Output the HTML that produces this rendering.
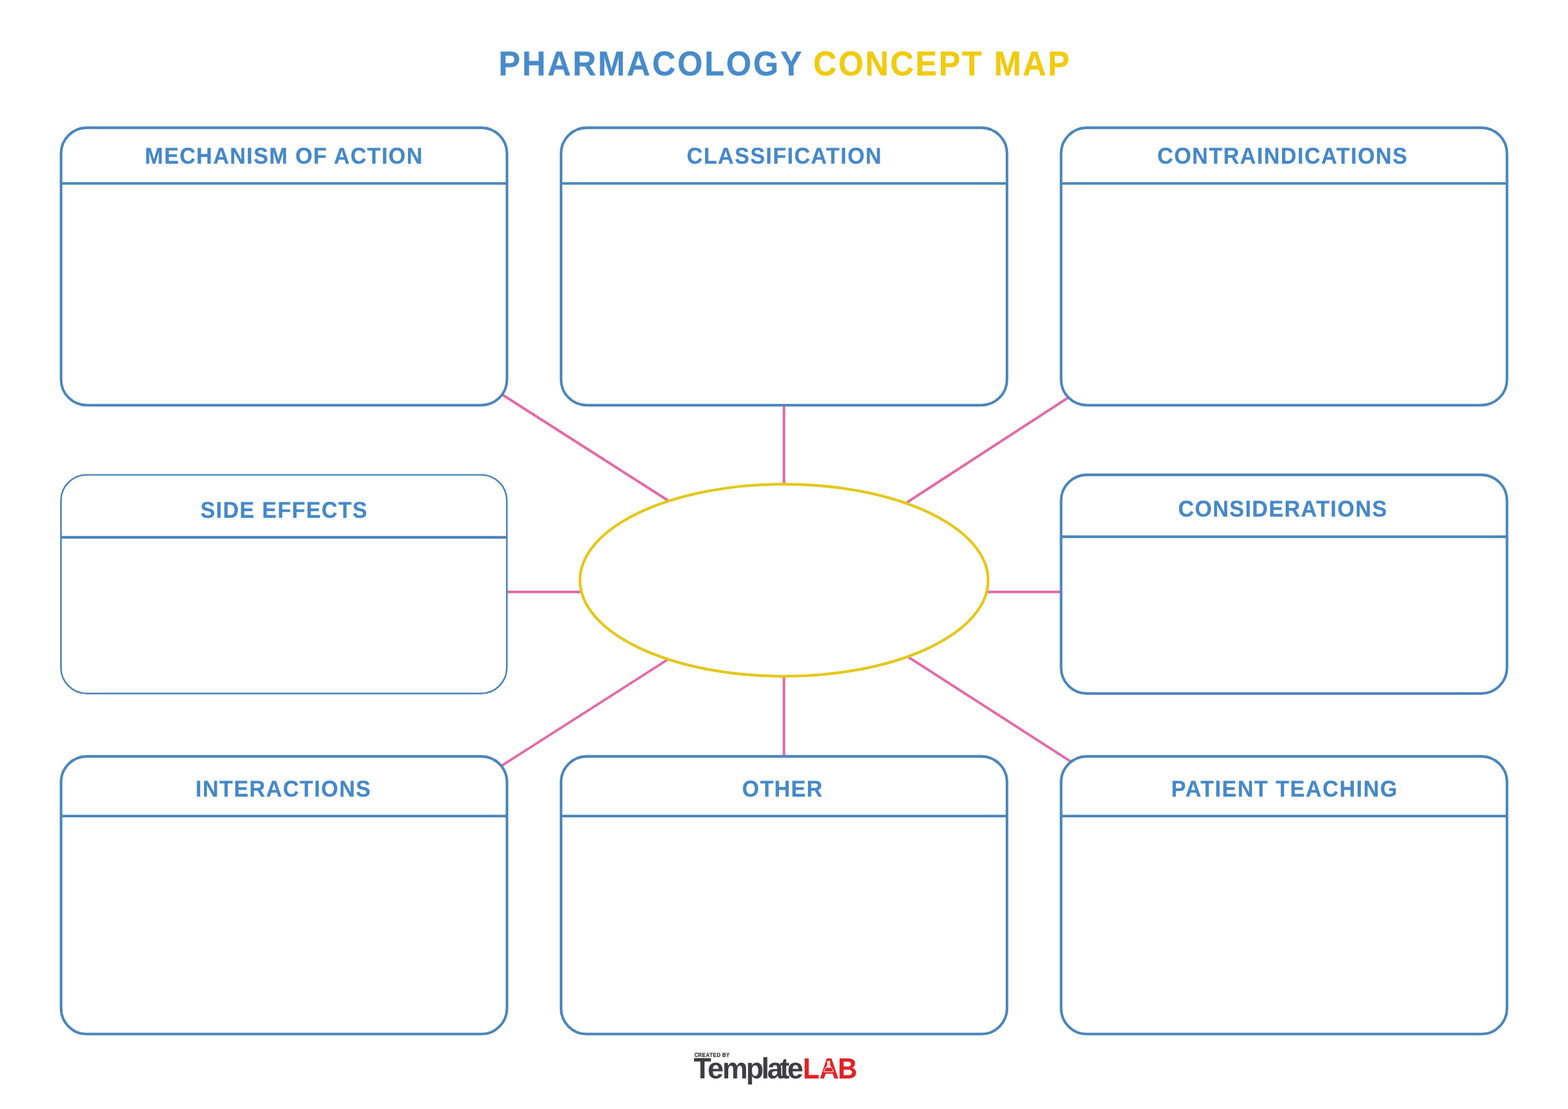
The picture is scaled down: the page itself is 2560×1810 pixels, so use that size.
<!DOCTYPE html>
<html lang="en">
<head>
<meta charset="utf-8">
<title>Pharmacology Concept Map</title>
<style>
html,body{margin:0;padding:0;background:#fff;}
body{width:2560px;height:1810px;overflow:hidden;}
svg{display:block;will-change:transform;}
text{font-family:"Liberation Sans",Arial,Helvetica,sans-serif;font-weight:bold;white-space:pre;text-rendering:geometricPrecision;}
</style>
</head>
<body>
<svg width="2560" height="1810" viewBox="0 0 2560 1810">
<rect x="0" y="0" width="2560" height="1810" fill="#ffffff"/>

<g id="connectors" stroke="#e16ca8" fill="none">
<line x1="819.0" y1="643.4" x2="1091.0" y2="817.1" stroke-width="4.3"/>
<line x1="1280.0" y1="661.4" x2="1280.0" y2="790.0" stroke-width="4.3"/>
<line x1="1743.2" y1="649.45" x2="1480.3" y2="820.3" stroke-width="4.3"/>
<line x1="827.5" y1="966.2" x2="949.0" y2="966.2" stroke-width="4.3"/>
<line x1="1611.0" y1="966.2" x2="1732.5" y2="966.2" stroke-width="4.3"/>
<line x1="819.0" y1="1249.8" x2="1092.0" y2="1075.3" stroke-width="4.0"/>
<line x1="1280.0" y1="1103.8" x2="1280.0" y2="1234.5" stroke-width="4.3"/>
<line x1="1747.5" y1="1242.5" x2="1482.4" y2="1072.0" stroke-width="4.2"/>
</g>
<ellipse id="center-node" cx="1280.1" cy="947.0" rx="333.2" ry="156.8" fill="none" stroke="#e4c81c" stroke-width="4.5"/>
<g id="boxes" fill="none" stroke="#4c86ba">
<rect x="99.7" y="208.5" width="728.0" height="452.9" rx="42" ry="42" stroke-width="4.3"/>
<line x1="99.7" y1="299.3" x2="827.7" y2="299.3" stroke-width="4.3"/>
<rect x="916.0" y="208.5" width="728.1" height="452.9" rx="42" ry="42" stroke-width="4.3"/>
<line x1="916.0" y1="299.3" x2="1644.1" y2="299.3" stroke-width="4.3"/>
<rect x="1732.4" y="208.5" width="728.0" height="452.9" rx="42" ry="42" stroke-width="4.3"/>
<line x1="1732.4" y1="299.3" x2="2460.4" y2="299.3" stroke-width="4.3"/>
<rect x="99.5" y="775.0" width="728.0" height="356.8" rx="42" ry="42" stroke-width="2.7"/>
<line x1="99.5" y1="877.0" x2="827.5" y2="877.0" stroke-width="4.3"/>
<rect x="1732.4" y="775.0" width="728.0" height="356.8" rx="42" ry="42" stroke-width="4.3"/>
<line x1="1732.4" y1="876.0" x2="2460.4" y2="876.0" stroke-width="4.3"/>
<rect x="99.7" y="1234.5" width="728.0" height="453.2" rx="42" ry="42" stroke-width="4.3"/>
<line x1="99.7" y1="1331.8" x2="827.7" y2="1331.8" stroke-width="4.3"/>
<rect x="916.0" y="1234.5" width="728.1" height="453.2" rx="42" ry="42" stroke-width="4.3"/>
<line x1="916.0" y1="1331.8" x2="1644.1" y2="1331.8" stroke-width="4.3"/>
<rect x="1732.4" y="1234.5" width="728.0" height="453.2" rx="42" ry="42" stroke-width="4.3"/>
<line x1="1732.4" y1="1331.8" x2="2460.4" y2="1331.8" stroke-width="4.3"/>
</g>
<g id="box-labels">
<text transform="translate(236.62 267.00) scale(1 1.04)" x="0" y="0" font-size="35.8" letter-spacing="1.482" fill="#4688c8" stroke="#4688c8" stroke-width="0.25" stroke-linejoin="miter">MECHANISM OF ACTION</text>
<text transform="translate(1121.29 267.00) scale(1 1.04)" x="0" y="0" font-size="35.8" letter-spacing="1.541" fill="#4688c8" stroke="#4688c8" stroke-width="0.25" stroke-linejoin="miter">CLASSIFICATION</text>
<text transform="translate(1889.59 267.00) scale(1 1.04)" x="0" y="0" font-size="35.8" letter-spacing="1.541" fill="#4688c8" stroke="#4688c8" stroke-width="0.25" stroke-linejoin="miter">CONTRAINDICATIONS</text>
<text transform="translate(327.25 845.00) scale(1 1.04)" x="0" y="0" font-size="35.8" letter-spacing="1.425" fill="#4688c8" stroke="#4688c8" stroke-width="0.25" stroke-linejoin="miter">SIDE EFFECTS</text>
<text transform="translate(1923.39 843.00) scale(1 1.04)" x="0" y="0" font-size="35.8" letter-spacing="1.472" fill="#4688c8" stroke="#4688c8" stroke-width="0.25" stroke-linejoin="miter">CONSIDERATIONS</text>
<text transform="translate(319.32 1300.00) scale(1 1.04)" x="0" y="0" font-size="35.8" letter-spacing="1.563" fill="#4688c8" stroke="#4688c8" stroke-width="0.25" stroke-linejoin="miter">INTERACTIONS</text>
<text transform="translate(1211.59 1300.00) scale(1 1.04)" x="0" y="0" font-size="35.8" letter-spacing="1.449" fill="#4688c8" stroke="#4688c8" stroke-width="0.25" stroke-linejoin="miter">OTHER</text>
<text transform="translate(1912.32 1300.00) scale(1 1.04)" x="0" y="0" font-size="35.8" letter-spacing="1.597" fill="#4688c8" stroke="#4688c8" stroke-width="0.25" stroke-linejoin="miter">PATIENT TEACHING</text>
</g>
<g id="title">
<text transform="translate(814.04 123.00) scale(1 1.06)" x="0" y="0" font-size="53" letter-spacing="3.001" fill="#488bcb" stroke="#488bcb" stroke-width="0.3" stroke-linejoin="miter">PHARMACOLOGY</text>
<text transform="translate(1327.73 123.00) scale(1 1.06)" x="0" y="0" font-size="53" letter-spacing="2.677" fill="#f0cb0e" stroke="#f0cb0e" stroke-width="0.3" stroke-linejoin="miter">CONCEPT MAP</text>
</g>
<g id="logo">
<text transform="translate(1133.81 1725) scale(1 1.15)" x="0.00 5.97 12.42 18.71 24.62 30.27 36.46 42.52 45.36 51.72" y="0" font-size="8.4" fill="#3e3e40" stroke="#3e3e40" stroke-width="0.3" stroke-linejoin="round">CREATED BY</text>
<text transform="translate(1132.61 1760) scale(1 1.02)" x="0.00 22.68 46.70 85.41 110.47 120.00 141.01 152.98" y="0" font-size="47" fill="#3e3e40">Template</text>
<text transform="translate(1310.99 1760) scale(1 1.08)" x="0.00 26.96 57.07" y="0" font-size="43.6" fill="#e02226" stroke="#e02226" stroke-width="0.3" stroke-linejoin="round">LAB</text>
<path d="M1353.7 1729.5 L1344.2 1752.6 L1363.2 1752.6 Z" fill="#e02226"/>
<path d="M1351.2 1731.8 L1354.6 1731.8 L1354.6 1738.2 L1357.0 1742.4 L1355.6 1741.8 L1353.9 1743.8 L1352.0 1741.6 L1350.2 1743.4 L1348.8 1742.4 L1351.2 1738.2 Z" fill="#fdeeed"/>
<path d="M1350.9 1731.6 L1350.9 1738.2 L1345.3 1747.7 Q1344.5 1749.4 1346.4 1749.4 L1359.4 1749.4 Q1361.3 1749.4 1360.5 1747.7 L1354.9 1738.2 L1354.9 1731.6" fill="none" stroke="#ffdedb" stroke-width="1.1" stroke-linejoin="round" stroke-linecap="round"/>
<circle cx="1353.3" cy="1737.0" r="0.45" fill="#e02226"/><circle cx="1352.5" cy="1739.6" r="0.5" fill="#e02226"/>
</g>
</svg>
</body>
</html>
